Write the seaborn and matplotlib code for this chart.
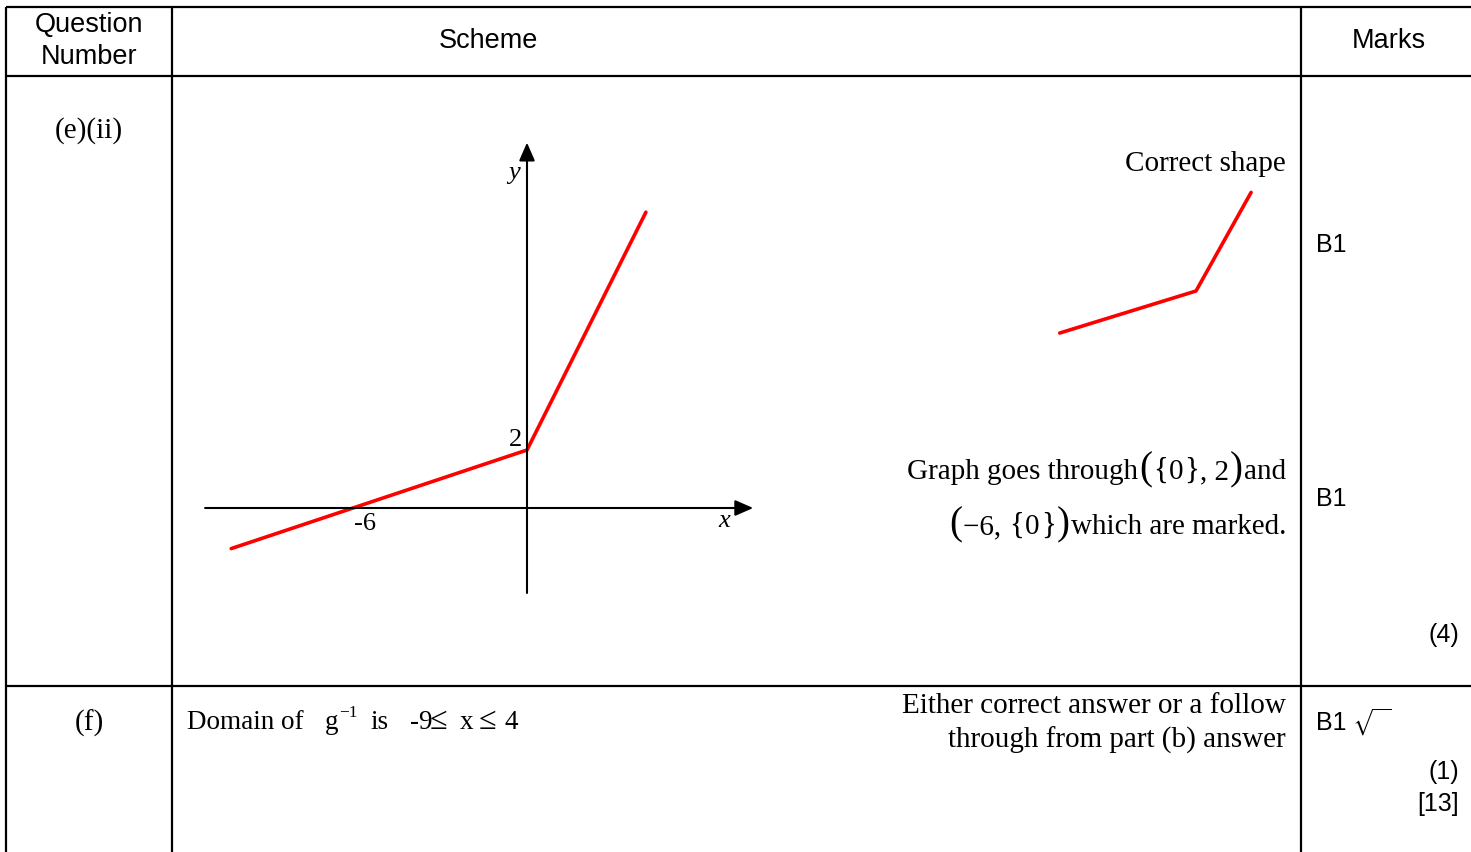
import matplotlib
matplotlib.use("Agg")
import matplotlib.pyplot as plt
import seaborn as sns

# ---- data ----
headers = ["Question\nNumber", "Scheme", "Marks"]
graph_x = [-10.2, 0.0, 4.1]          # sketch of y = g(x) pieces
graph_y = [-1.4, 2.0, 10.2]
shape_x = [-4.7, 0.0, 1.9]           # "correct shape" mini sketch
shape_y = [0.55, 2.0, 5.4]
tick_labels = {"-6": (-6, 0), "2": (0, 2)}
marks_e = ["B1", "B1", "(4)"]
marks_f = ["B1", "(1)", "[13]"]

sns.set_theme(style="white")
plt.rcParams["mathtext.fontset"] = "stix"
plt.rcParams["text.color"] = "black"
SANS = ["Liberation Sans", "DejaVu Sans"]
SERIF = ["Liberation Serif", "DejaVu Serif"]

W, H = 1471, 852
fig = plt.figure(figsize=(W / 100, H / 100), dpi=100)
fig.patch.set_facecolor("white")

# base axes in pixel space for the table layout
base = fig.add_axes([0, 0, 1, 1])
base.set_xlim(0, W)
base.set_ylim(H, 0)
base.axis("off")

lw = 1.6
for y in (7, 76, 686):
    base.plot([6, W], [y, y], color="black", lw=lw, solid_capstyle="butt")
for x in (6, 172, 1301):
    base.plot([x, x], [7, H], color="black", lw=lw, solid_capstyle="butt")

hs = 19.5
base.text(89, 41, headers[0], ha="center", va="center", fontsize=hs, family=SANS, linespacing=1.3)
base.text(488, 41, headers[1], ha="center", va="center", fontsize=hs, family=SANS)
base.text(1389, 41, headers[2], ha="center", va="center", fontsize=hs, family=SANS)

fs = 21
base.text(89, 131, "(e)(ii)", ha="center", va="center", fontsize=fs, family=SERIF)
base.text(89, 723, "(f)", ha="center", va="center", fontsize=fs, family=SERIF)

base.text(1286, 164, "Correct shape", ha="right", va="center", fontsize=fs, family=SERIF)
base.text(1286, 706, "Either correct answer or a follow", ha="right", va="center", fontsize=fs, family=SERIF)
base.text(1286, 740, "through from part (b) answer", ha="right", va="center", fontsize=fs, family=SERIF)

# "Domain of g^-1 is -9 <= x <= 4"
dfs = 19.5
dy = 729
for s, x, f, yy in [("Domain of", 187, dfs, dy), ("g", 325, dfs, dy), ("\u22121", 339, 12.5, dy - 12),
                    ("is", 370, dfs, dy), ("-9", 410, dfs, dy), ("\u2264", 430, 23, dy),
                    ("x", 460, dfs, dy), ("\u2264", 479, 23, dy), ("4", 505, dfs, dy)]:
    base.text(x, yy, s, ha="left", va="baseline", fontsize=f, family=SERIF)


def chain(pieces, right, base_y, gap=1):
    arts = [base.text(0, base_y, s, fontsize=f, family=SERIF, ha="left", va="baseline")
            for s, f in pieces]
    fig.canvas.draw()
    r = fig.canvas.get_renderer()
    widths = [a.get_window_extent(r).width for a in arts]
    x = right - sum(widths) - gap * (len(arts) - 1)
    for a, w in zip(arts, widths):
        a.set_x(x)
        x += w + gap


P, B = 28, 22
chain([("Graph goes through", fs), ("(", P), ("{", B), ("0", fs), ("}", B), (", 2", fs),
       (")", P), ("and", fs)], 1286, 479)
chain([("(", P), ("\u22126, ", fs), ("{", B), ("0", fs), ("}", B), (")", P),
       ("which are marked.", fs)], 1286, 534)

ms = 18
base.text(1316, 245, marks_e[0], ha="left", va="center", fontsize=ms, family=SANS)
base.text(1316, 499, marks_e[1], ha="left", va="center", fontsize=ms, family=SANS)
base.text(1459, 635, marks_e[2], ha="right", va="center", fontsize=ms, family=SANS)
base.text(1316, 723, marks_f[0], ha="left", va="center", fontsize=ms, family=SANS)
base.text(1352, 722, r"$\sqrt{\;\;\;}$", ha="left", va="center", fontsize=15)
base.text(1459, 772, marks_f[1], ha="right", va="center", fontsize=ms, family=SANS)
base.text(1459, 804, marks_f[2], ha="right", va="center", fontsize=ms, family=SANS)

# ---- main graph axes (29 px per unit) ----
ppu = 29.0
ox, oy = 527, 508
xmin, xmax, ymin, ymax = -12, 9, -4, 13.5
left = ox + xmin * ppu
bottom_px = oy - ymin * ppu
ax = fig.add_axes([left / W, 1 - bottom_px / H, (xmax - xmin) * ppu / W, (ymax - ymin) * ppu / H])
ax.set_xlim(xmin, xmax)
ax.set_ylim(ymin, ymax)
ax.axis("off")
ax.patch.set_alpha(0)

arrow = dict(arrowstyle="-|>,head_length=0.55,head_width=0.24", color="black", lw=1.5,
             shrinkA=0, shrinkB=0, mutation_scale=20)
ax.annotate("", xy=(7.8, 0), xytext=(-11.1, 0), arrowprops=arrow)
ax.annotate("", xy=(0, 12.6), xytext=(0, -2.93), arrowprops=arrow)

sns.lineplot(x=graph_x, y=graph_y, ax=ax, color="red", lw=2.6, sort=False, estimator=None)

ax.text(-0.45, 11.55, "y", style="italic", ha="center", va="center", fontsize=19, family=SERIF)
ax.text(6.8, -0.45, "x", style="italic", ha="center", va="center", fontsize=19, family=SERIF)
for lab, (px, py) in tick_labels.items():
    if px == 0:
        ax.text(px - 0.4, py + 0.35, lab, ha="center", va="center", fontsize=19, family=SERIF)
    else:
        ax.text(px + 0.4, py - 0.55, lab, ha="center", va="center", fontsize=19, family=SERIF)

# ---- mini "correct shape" sketch axes ----
kx, ky = 1196, 291 + 2 * ppu  # pixel of (0,0) for the mini sketch
sxmin, sxmax, symin, symax = -5, 2.5, 0, 6
sleft = kx + sxmin * ppu
sbottom = ky - symin * ppu
ax2 = fig.add_axes([sleft / W, 1 - sbottom / H, (sxmax - sxmin) * ppu / W, (symax - symin) * ppu / H])
ax2.set_xlim(sxmin, sxmax)
ax2.set_ylim(symin, symax)
ax2.axis("off")
ax2.patch.set_alpha(0)
sns.lineplot(x=shape_x, y=shape_y, ax=ax2, color="red", lw=2.6, sort=False, estimator=None)

fig.savefig("out.png", dpi=100, facecolor="white")
